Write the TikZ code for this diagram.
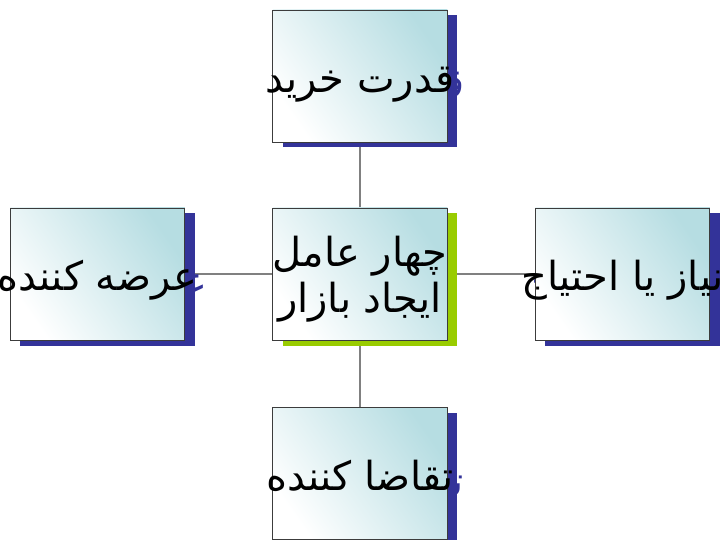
\documentclass[tikz,border=0pt]{standalone}
\usepackage{fontspec}
\TeXXeTstate=1
\newfontfamily\arabicfont[Script=Arabic]{DejaVu Sans}
\definecolor{shblue}{HTML}{333399}
\definecolor{shgreen}{HTML}{99CC00}
\definecolor{boxcyan}{HTML}{B6DDE2}
\definecolor{conn}{HTML}{808080}
\definecolor{edgecol}{HTML}{3C3C3C}
\tikzset{
 boxnode/.style={rectangle, minimum width=174.5pt, minimum height=132pt, inner sep=0pt, draw=edgecol, line width=0.8pt, top color=boxcyan, bottom color=white, shading angle=-55},
 shadownode/.style={rectangle, minimum width=174.5pt, minimum height=132pt, inner sep=0pt, draw=none, fill=#1},
 boxtext/.style={font=\arabicfont\fontsize{40}{46}\selectfont, inner sep=0pt, anchor=base},
 connector/.style={draw=conn, line width=1.5pt}
}
\begin{document}
\begin{tikzpicture}[x=1pt,y=-1pt]
\useasboundingbox (0,0) rectangle (720,540);
% coordinates
\coordinate (pT) at (360,76);
\coordinate (pL) at (97.5,274);
\coordinate (pC) at (360,274);
\coordinate (pR) at (622.5,274);
\coordinate (pB) at (360,473);
% connectors
\draw[connector] (pC) -- (pT);
\draw[connector] (pC) -- (pL);
\draw[connector] (pC) -- (pR);
\draw[connector] (pC) -- (pB);
% shadows
\node[shadownode=shblue] (sT) at ([shift={(10,5.5)}]pT) {};
\node[shadownode=shblue] (sL) at ([shift={(10,5.5)}]pL) {};
\node[shadownode=shgreen] (sC) at ([shift={(10,5.5)}]pC) {};
\node[shadownode=shblue] (sR) at ([shift={(10,5.5)}]pR) {};
\node[shadownode=shblue] (sB) at ([shift={(10,5.5)}]pB) {};
\node[boxtext, text=shblue] (stT) at ([yshift=-16.5pt]sT.center) {\beginR قدرت خرید\endR};
\node[boxtext, text=shblue] (stL) at ([yshift=-16pt]sL.center) {\beginR عرضه کننده\endR};
\node[boxtext, text=shgreen] (stC1) at ([yshift=8pt]sC.center) {\beginR چهار عامل\endR};
\node[boxtext, text=shgreen] (stC2) at ([yshift=-38pt]sC.center) {\beginR ایجاد بازار\endR};
\node[boxtext, text=shblue] (stR) at ([yshift=-16pt]sR.center) {\beginR نیاز یا احتیاج\endR};
\node[boxtext, text=shblue] (stB) at ([yshift=-17pt]sB.center) {\beginR تقاضا کننده\endR};
% boxes
\node[boxnode] (T) at (pT) {};
\node[boxnode] (L) at (pL) {};
\node[boxnode] (C) at (pC) {};
\node[boxnode] (R) at (pR) {};
\node[boxnode] (B) at (pB) {};
% texts
\node[boxtext] (tT) at ([yshift=-16.5pt]T.center) {\beginR قدرت خرید\endR};
\node[boxtext] (tL) at ([yshift=-16pt]L.center) {\beginR عرضه کننده\endR};
\node[boxtext] (tC1) at ([yshift=8pt]C.center) {\beginR چهار عامل\endR};
\node[boxtext] (tC2) at ([yshift=-38pt]C.center) {\beginR ایجاد بازار\endR};
\node[boxtext] (tR) at ([yshift=-16pt]R.center) {\beginR نیاز یا احتیاج\endR};
\node[boxtext] (tB) at ([yshift=-17pt]B.center) {\beginR تقاضا کننده\endR};
\end{tikzpicture}
\end{document}
